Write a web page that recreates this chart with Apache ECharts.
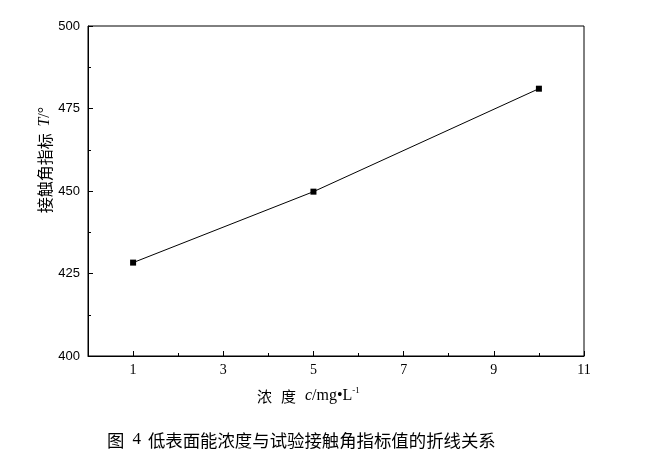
<!DOCTYPE html>
<html><head><meta charset="utf-8">
<script src="https://cdn.jsdelivr.net/npm/echarts@6/dist/echarts.min.js"></script>
<style>html,body{margin:0;padding:0;background:#fff}#c{width:659px;height:460px}</style>
</head><body><div id="c"></div>
<script>
const concentration = [1, 5, 10];
const contactAngle = [428.3, 449.8, 481.0];
const xMajorTicks = [1, 3, 5, 7, 9, 11];
const caption = '低表面能浓度与试验接触角指标值的折线关系';

const chart = echarts.init(document.getElementById('c'));
const serif = '"Liberation Serif", "Times New Roman", serif';
const cjk = '"Noto Sans CJK SC", sans-serif';
chart.setOption({
  animation: false,
  backgroundColor: '#fff',
  grid: { left: 88, top: 26, right: 75, bottom: 104, show: true, borderColor: '#000', borderWidth: 1, backgroundColor: 'transparent' },
  xAxis: [{
    type: 'value', min: 0, max: 11, interval: 1,
    axisLine: { show: true, lineStyle: { color: '#000', width: 1 } },
    axisTick: { show: true, inside: true, length: 5, customValues: xMajorTicks, lineStyle: { color: '#000' } },
    axisLabel: { show: true, customValues: xMajorTicks, color: '#000', fontFamily: serif, fontSize: 14, margin: 7 },
    splitLine: { show: false }
  }, {
    type: 'value', min: 0, max: 11, interval: 1, position: 'bottom',
    axisLine: { show: false },
    axisTick: { show: true, inside: true, length: 3, lineStyle: { color: '#000' } },
    axisLabel: { show: false }, splitLine: { show: false }
  }],
  yAxis: {
    type: 'value', min: 400, max: 500, interval: 25,
    axisLine: { show: true, lineStyle: { color: '#000', width: 1 } },
    axisTick: { show: true, inside: true, length: 5, lineStyle: { color: '#000' } },
    minorTick: { show: true, splitNumber: 2, length: 3, lineStyle: { color: '#000' } },
    axisLabel: { color: '#000', fontFamily: '"Liberation Sans", Arial, sans-serif', fontSize: 13, margin: 8 },
    splitLine: { show: false }
  },
  series: [{
    type: 'line',
    data: concentration.map((x, i) => [x, contactAngle[i]]),
    symbol: 'rect', symbolSize: 6,
    itemStyle: { color: '#000' },
    lineStyle: { color: '#000', width: 1 }
  }],
  graphic: [{
    type: 'text', x: 45, y: 160, rotation: Math.PI / 2,
    style: {
      text: '{cn|接触角指标}  {it|T}{n|/°}',
      align: 'center', verticalAlign: 'middle',
      rich: {
        cn: { fontFamily: cjk, fontSize: 16, fill: '#000' },
        it: { fontFamily: serif, fontStyle: 'italic', fontSize: 16, fill: '#000' },
        n: { fontFamily: serif, fontSize: 16, fill: '#000' }
      }
    }
  }, {
    type: 'text', x: 257, y: 396,
    style: {
      text: '{cn|浓}{gap| }{cn|度}{gap| }{it|c}{n|/mg•L}{sup|-1}',
      verticalAlign: 'middle',
      rich: {
        cn: { fontFamily: cjk, fontSize: 15, fill: '#000' },
        gap: { fontFamily: serif, fontSize: 15, width: 9 },
        it: { fontFamily: serif, fontStyle: 'italic', fontSize: 16, fill: '#000' },
        n: { fontFamily: serif, fontSize: 16, fill: '#000' },
        sup: { fontFamily: serif, fontSize: 9, fill: '#000', padding: [0, 0, 10, 0] }
      }
    }
  }, {
    type: 'text', x: 107, y: 440,
    style: {
      text: '{t|图}{g1| }{d|4}{g2| }{t|' + caption + '}',
      verticalAlign: 'middle',
      rich: {
        t: { fontFamily: cjk, fontSize: 17.4, fill: '#000' },
        d: { fontFamily: serif, fontSize: 17, fill: '#000' },
        g1: { fontSize: 17, width: 8 },
        g2: { fontSize: 17, width: 7 }
      }
    }
  }]
});
</script></body></html>
